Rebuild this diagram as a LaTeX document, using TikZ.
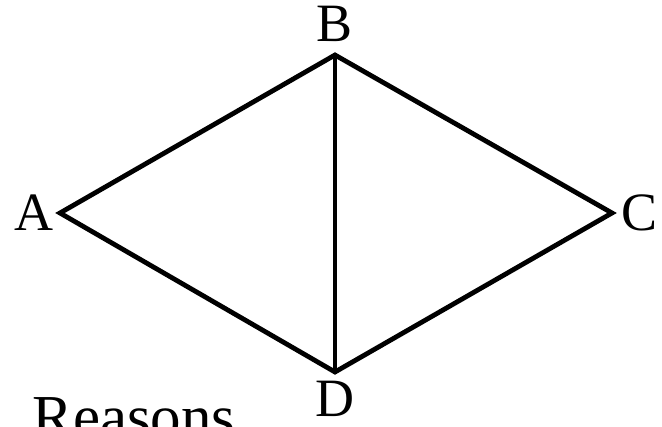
\documentclass[tikz,border=0pt]{standalone}
\usepackage{fontspec}
\setmainfont{Liberation Serif}
\usetikzlibrary{positioning}

\begin{document}
\begin{tikzpicture}[x=1pt,y=-1pt,line width=4.8pt,line join=miter,
  lbl/.style={inner sep=0pt,font=\fontsize{54}{60}\selectfont}]
  \useasboundingbox (0,0) rectangle (662,427);
  \coordinate (A) at (60,213);
  \coordinate (B) at (335,55);
  \coordinate (C) at (612,213);
  \coordinate (D) at (335,372);
  \draw (A)--(B)--(C)--(D)--cycle;
  \draw (B)--(D);
  \node[lbl,left=4pt of A] (la) {A};
  \node[lbl,above=11pt of B] (lb) {B};
  \node[lbl,right=7pt of C] (lc) {C};
  \node[lbl,below=7pt of D] (ld) {D};
  \node[lbl,anchor=north west,font=\fontsize{61}{70}\selectfont] (rs) at (30,395) {Reasons};
\end{tikzpicture}
\end{document}
